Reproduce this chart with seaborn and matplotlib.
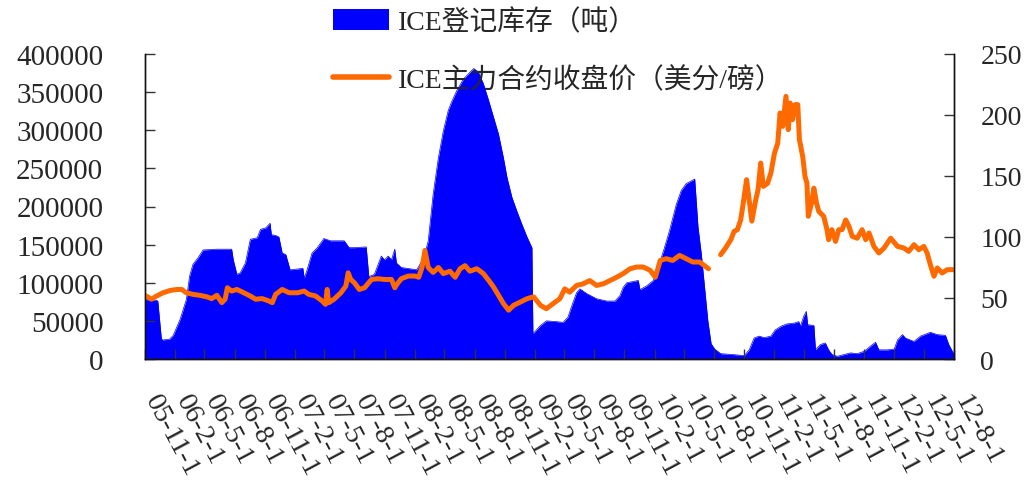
import numpy as np
import pandas as pd
import matplotlib
matplotlib.use("Agg")
import matplotlib.pyplot as plt
from matplotlib.transforms import ScaledTranslation
from matplotlib.patches import Patch
from matplotlib.lines import Line2D
import seaborn as sns

# ---------------- data ----------------
STOCK_LABEL = "ICE登记库存（吨）"
PRICE_LABEL = "ICE主力合约收盘价（美分/磅）"

STOCK_DATES = [
    "2005-11-01", "2005-12-06", "2005-12-10", "2005-12-21", "2005-12-26", "2006-01-15",
    "2006-01-26", "2006-02-16", "2006-03-07", "2006-03-17", "2006-03-27", "2006-04-12",
    "2006-04-27", "2006-06-08", "2006-07-23", "2006-07-28", "2006-08-08", "2006-08-18",
    "2006-09-03", "2006-09-18", "2006-10-09", "2006-10-19", "2006-11-04", "2006-11-17",
    "2006-11-21", "2006-12-04", "2006-12-14", "2006-12-24", "2007-01-04", "2007-01-17",
    "2007-02-09", "2007-02-25", "2007-03-01", "2007-03-10", "2007-03-25", "2007-04-10",
    "2007-04-30", "2007-05-20", "2007-07-01", "2007-07-16", "2007-08-01", "2007-09-06",
    "2007-09-14", "2007-10-01", "2007-10-22", "2007-11-01", "2007-11-12", "2007-11-22",
    "2007-12-02", "2007-12-07", "2007-12-22", "2008-02-07", "2008-02-18", "2008-03-03",
    "2008-03-13", "2008-03-28", "2008-04-13", "2008-04-28", "2008-05-13", "2008-05-23",
    "2008-06-08", "2008-06-28", "2008-07-18", "2008-07-30", "2008-08-13", "2008-08-28",
    "2008-09-13", "2008-09-28", "2008-10-13", "2008-10-28", "2008-11-08", "2008-11-23",
    "2008-12-08", "2008-12-23", "2009-01-08", "2009-01-23", "2009-01-26", "2009-02-18",
    "2009-03-08", "2009-04-08", "2009-04-28", "2009-05-13", "2009-05-23", "2009-06-08",
    "2009-06-18", "2009-07-08", "2009-08-08", "2009-09-08", "2009-10-03", "2009-10-18",
    "2009-10-28", "2009-11-08", "2009-12-13", "2009-12-18", "2010-01-08", "2010-01-28",
    "2010-02-08", "2010-02-28", "2010-03-18", "2010-04-08", "2010-04-23", "2010-05-08",
    "2010-06-03", "2010-06-13", "2010-06-23", "2010-07-03", "2010-07-13", "2010-07-23",
    "2010-08-03", "2010-08-21", "2010-10-01", "2010-11-01", "2010-11-16", "2010-12-01",
    "2010-12-16", "2011-01-01", "2011-01-21", "2011-02-03", "2011-02-21", "2011-03-11",
    "2011-04-01", "2011-04-16", "2011-04-21", "2011-05-01", "2011-05-09", "2011-05-13",
    "2011-06-01", "2011-06-06", "2011-06-21", "2011-07-06", "2011-07-16", "2011-07-26",
    "2011-08-11", "2011-09-21", "2011-10-11", "2011-11-01", "2011-11-21", "2011-12-06",
    "2011-12-16", "2012-01-11", "2012-02-01", "2012-02-11", "2012-02-26", "2012-03-06",
    "2012-04-01", "2012-04-21", "2012-05-21", "2012-06-11", "2012-07-06", "2012-07-16",
    "2012-08-01",
]
STOCK_TONS = [
    78000, 77000, 76000, 26000, 25000, 26000,
    31000, 52000, 78000, 109000, 124000, 133000,
    143000, 144000, 144000, 130000, 111000, 113000,
    126000, 157000, 159000, 170000, 172000, 178000,
    163000, 162000, 160000, 139000, 137000, 117000,
    118000, 119000, 106000, 117000, 139000, 146000,
    158000, 155000, 155000, 146000, 146000, 147000,
    108000, 111000, 135000, 130000, 135000, 130000,
    144000, 126000, 120000, 117000, 125000, 138000,
    155000, 216000, 264000, 299000, 326000, 337000,
    352000, 367000, 376000, 381000, 376000, 361000,
    339000, 317000, 295000, 264000, 238000, 212000,
    194000, 177000, 160000, 146000, 33000, 44000,
    50000, 49000, 48000, 55000, 68000, 87000,
    92000, 86000, 79000, 76000, 76000, 83000,
    94000, 100000, 103000, 91000, 96000, 103000,
    116000, 142000, 168000, 203000, 221000, 230000,
    236000, 173000, 138000, 94000, 50000, 20000,
    13000, 7000, 5700, 4400, 12000, 27500,
    30000, 28000, 30000, 38000, 43000, 46000,
    47000, 49000, 43000, 56000, 62500, 45000,
    44000, 12000, 19000, 21000, 12000, 6000,
    3500, 8000, 7000, 10000, 17000, 22000,
    12000, 12000, 13000, 25000, 32000, 27500,
    23000, 30000, 35000, 32000, 31000, 19000,
    6000,
]

PRICE_DATES = [
    "2005-11-01", "2005-11-21", "2005-12-06", "2005-12-26", "2006-01-17", "2006-02-06",
    "2006-02-21", "2006-03-07", "2006-03-27", "2006-04-17", "2006-05-08", "2006-05-23",
    "2006-06-08", "2006-06-23", "2006-07-03", "2006-07-10", "2006-07-23", "2006-08-08",
    "2006-08-29", "2006-09-18", "2006-10-04", "2006-10-24", "2006-11-14", "2006-11-24",
    "2006-12-04", "2006-12-24", "2007-01-14", "2007-02-09", "2007-03-01", "2007-03-15",
    "2007-04-05", "2007-04-25", "2007-05-05", "2007-05-10", "2007-05-15", "2007-05-31",
    "2007-06-21", "2007-07-06", "2007-07-13", "2007-07-21", "2007-08-01", "2007-08-16",
    "2007-09-01", "2007-09-22", "2007-10-12", "2007-11-01", "2007-11-22", "2007-12-02",
    "2007-12-12", "2007-12-22", "2008-01-12", "2008-02-02", "2008-02-13", "2008-02-23",
    "2008-03-03", "2008-03-13", "2008-03-28", "2008-04-13", "2008-04-28", "2008-05-18",
    "2008-06-03", "2008-06-18", "2008-07-03", "2008-07-18", "2008-08-08", "2008-08-28",
    "2008-09-13", "2008-09-28", "2008-10-13", "2008-10-28", "2008-11-13", "2008-11-28",
    "2008-12-18", "2009-01-08", "2009-01-28", "2009-02-18", "2009-03-08", "2009-03-28",
    "2009-04-18", "2009-05-03", "2009-05-18", "2009-06-08", "2009-06-28", "2009-07-18",
    "2009-08-08", "2009-08-28", "2009-09-18", "2009-10-08", "2009-10-28", "2009-11-18",
    "2009-12-08", "2009-12-28", "2010-01-18", "2010-02-03", "2010-02-18", "2010-03-08",
    "2010-03-28", "2010-04-18", "2010-05-08", "2010-05-28", "2010-06-18", "2010-07-08",
    "2010-07-15", "2010-08-01", "2010-08-21", "2010-09-05", "2010-09-21", "2010-10-01",
    "2010-10-11", "2010-10-21", "2010-10-29", "2010-11-08", "2010-11-17", "2010-11-24",
    "2010-12-06", "2010-12-13", "2010-12-21", "2010-12-29", "2011-01-11", "2011-01-21",
    "2011-02-01", "2011-02-11", "2011-02-18", "2011-02-26", "2011-03-08", "2011-03-15",
    "2011-03-21", "2011-03-28", "2011-04-05", "2011-04-13", "2011-04-18", "2011-04-28",
    "2011-05-05", "2011-05-11", "2011-05-15", "2011-05-25", "2011-06-01", "2011-06-09",
    "2011-06-16", "2011-07-01", "2011-07-11", "2011-07-16", "2011-07-26", "2011-08-06",
    "2011-08-16", "2011-08-26", "2011-09-06", "2011-09-16", "2011-09-26", "2011-10-11",
    "2011-10-26", "2011-11-06", "2011-11-16", "2011-12-01", "2011-12-16", "2012-01-01",
    "2012-01-21", "2012-02-11", "2012-03-01", "2012-03-16", "2012-04-01", "2012-04-16",
    "2012-05-01", "2012-05-11", "2012-05-21", "2012-06-01", "2012-06-11", "2012-06-26",
    "2012-07-11", "2012-08-01",
]
PRICE_CENTS = [
    52.2, 49.0, 51.6, 54.3, 56.2, 57.0,
    57.0, 54.3, 53.0, 52.2, 51.0, 49.5,
    52.2, 46.2, 49.0, 58.4, 55.7, 57.0,
    54.3, 51.6, 49.0, 49.5, 47.5, 46.2,
    53.0, 57.0, 54.3, 54.3, 55.7, 53.0,
    51.6, 47.5, 44.8, 57.0, 46.2, 49.0,
    54.3, 59.8, 70.6, 65.2, 62.5, 57.0,
    58.4, 65.2, 65.8, 65.2, 65.2, 58.4,
    62.5, 65.8, 68.0, 68.0, 67.0, 75.0,
    89.0, 75.0, 71.0, 75.0, 70.0, 72.0,
    67.0, 74.0, 76.5, 72.0, 74.0, 70.0,
    64.5, 59.0, 52.3, 45.5, 40.0, 44.0,
    46.6, 49.4, 51.0, 44.0, 41.2, 45.3,
    49.4, 57.5, 54.8, 60.3, 61.6, 64.3,
    60.3, 61.6, 64.3, 67.0, 70.0, 74.0,
    75.4, 75.4, 72.7, 67.0, 80.8, 82.2,
    80.8, 84.9, 82.2, 79.5, 79.5, 75.4,
    74.0, np.nan, 85.5, 91.0, 97.8, 104.6,
    106.0, 114.0, 128.0, 147.0, 128.0, 113.0,
    130.6, 138.8, 160.6, 141.5, 144.0, 152.4,
    168.8, 177.0, 201.6, 190.7, 215.3, 188.0,
    209.8, 196.2, 208.5, 208.5, 179.8, 166.0,
    149.7, 144.0, 117.0, 127.9, 140.0, 127.9,
    121.0, 117.0, 106.0, 97.8, 106.0, 96.4,
    106.0, 106.0, 114.0, 108.7, 100.5, 99.0,
    106.0, 97.8, 103.3, 92.3, 86.9, 91.0,
    99.0, 92.3, 91.0, 88.2, 93.7, 89.6,
    92.3, 86.9, 77.3, 67.8, 74.6, 70.5,
    73.2, 73.2,
]

TICK_LABELS = [
    "05-11-1", "06-2-1", "06-5-1", "06-8-1", "06-11-1", "07-2-1", "07-5-1",
    "07-8-1", "07-11-1", "08-2-1", "08-5-1", "08-8-1", "08-11-1", "09-2-1",
    "09-5-1", "09-8-1", "09-11-1", "10-2-1", "10-5-1", "10-8-1", "10-11-1",
    "11-2-1", "11-5-1", "11-8-1", "11-11-1", "12-2-1", "12-5-1", "12-8-1",
]
LEFT_TICKS = [0, 50000, 100000, 150000, 200000, 250000, 300000, 350000, 400000]
RIGHT_TICKS = [0, 50, 100, 150, 200, 250]

# ---------------- style ----------------
sns.set_theme(style="ticks")
plt.rcParams["font.family"] = ["Liberation Serif", "Noto Sans CJK SC", "DejaVu Sans"]

BLUE = "#0000FF"
ORANGE = "#FF6A00"

stock = pd.DataFrame({"date": pd.to_datetime(STOCK_DATES), "tons": STOCK_TONS})
price = pd.DataFrame({"date": pd.to_datetime(PRICE_DATES), "cents": PRICE_CENTS})
tick_dates = pd.to_datetime(["20" + t for t in TICK_LABELS], format="%Y-%m-%d")

fig = plt.figure(figsize=(10.3, 4.85), dpi=100)
AX_L, AX_R, AX_T, AX_B = 145, 954, 55, 360
ax = fig.add_axes([AX_L / 1030, 1 - AX_B / 485, (AX_R - AX_L) / 1030, (AX_B - AX_T) / 485])
ax2 = ax.twinx()

# stock area (left axis)
sns.lineplot(data=stock, x="date", y="tons", ax=ax, color=BLUE, linewidth=0.5)
ax.fill_between(stock["date"], 0, stock["tons"], color=BLUE, linewidth=0)

# price line (right axis), broken where data are missing
valid = price["cents"].notna()
seg_id = price["cents"].isna().cumsum()
for _, seg in price[valid].groupby(seg_id[valid]):
    sns.lineplot(data=seg, x="date", y="cents", ax=ax2, color=ORANGE,
                 linewidth=3.6, solid_capstyle="round")

ax.set_xlim(tick_dates[0], tick_dates[-1])
ax.set_ylim(0, 400000)
ax2.set_ylim(0, 250)
ax.set_xlabel("")
ax.set_ylabel("")
ax2.set_ylabel("")

ax.set_yticks(LEFT_TICKS)
ax.set_yticklabels([str(v) for v in LEFT_TICKS])
ax2.set_yticks(RIGHT_TICKS)
ax2.set_yticklabels([str(v) for v in RIGHT_TICKS])
ax.set_xticks(tick_dates)
ax.set_xticklabels(TICK_LABELS)
ax.set_axisbelow(False)
ax2.yaxis.tick_right()

for a in (ax, ax2):
    a.grid(False)
    a.spines["top"].set_visible(False)
    for s in ("left", "right", "bottom"):
        a.spines[s].set_visible(True)
        a.spines[s].set_color("#111111")
        a.spines[s].set_linewidth(1.0)
ax.tick_params(axis="y", which="major", direction="in", length=7, width=1,
               color="#333333", labelsize=21, pad=30, left=True, right=False)
ax2.tick_params(axis="y", which="major", direction="in", length=7, width=1,
                color="#333333", labelsize=20, pad=19, right=True, left=False)
ax.tick_params(axis="x", which="major", direction="in", length=7, width=1,
               color="#333333", labelsize=20.5, pad=26.5, bottom=True, top=False)
shift = ScaledTranslation(6 / 100, 0, fig.dpi_scale_trans)
for lab in ax.get_xticklabels():
    lab.set_rotation(-62)
    lab.set_rotation_mode("anchor")
    lab.set_horizontalalignment("left")
    lab.set_verticalalignment("center")
    lab.set_transform(lab.get_transform() + shift)
ax.set_zorder(1)
ax2.set_zorder(2)
ax2.patch.set_visible(False)

handles = [Patch(facecolor=BLUE, edgecolor="none"),
           Line2D([0], [0], color=ORANGE, linewidth=4.0, solid_capstyle="round")]
fig.legend(handles, [STOCK_LABEL, PRICE_LABEL], loc="upper left",
           bbox_to_anchor=(333 / 1030, 1 - 10 / 485), frameon=False,
           fontsize=20, handlelength=2.0, handleheight=0.78,
           handletextpad=0.33, labelspacing=1.12, borderpad=0, borderaxespad=0)

fig.savefig("out.png", dpi=100)
